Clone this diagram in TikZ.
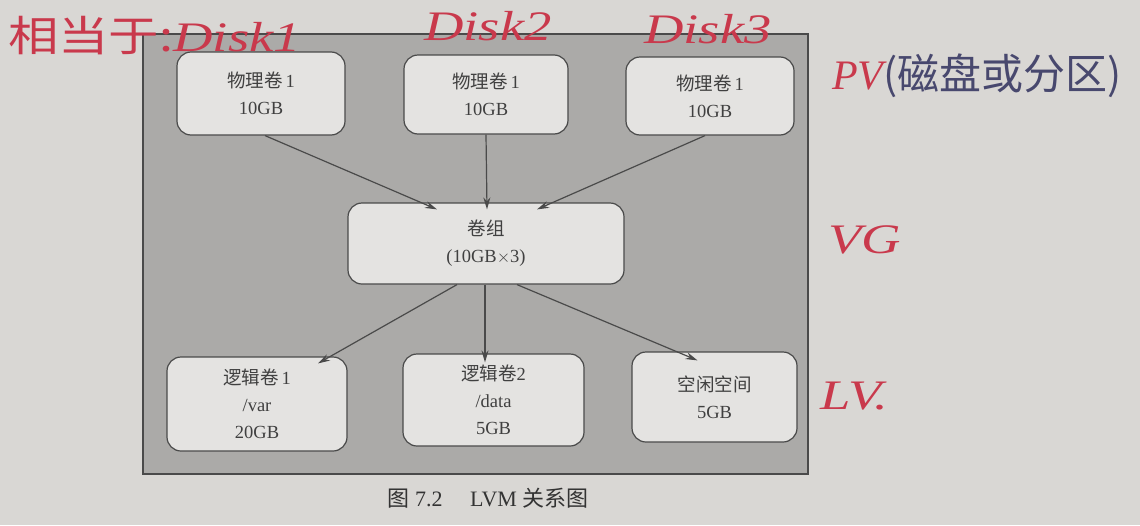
\documentclass[tikz,border=0pt]{standalone}
\usepackage{fontspec}
\setmainfont{Liberation Serif}
\newfontfamily\cjk{Noto Sans CJK SC}
\usetikzlibrary{arrows.meta}
\definecolor{paper}{HTML}{D9D7D4}
\definecolor{panel}{HTML}{ABAAA8}
\definecolor{boxfill}{HTML}{E4E3E1}
\definecolor{edge}{HTML}{4A4A4A}
\definecolor{ink}{HTML}{C9394C}
\definecolor{blueink}{HTML}{48486E}
\tikzset{
  lvbox/.style={draw=edge, line width=1.2pt, fill=boxfill, rounded corners=14pt, align=center, inner sep=0pt, text=black!75, font=\rmfamily\fontsize{18.5}{27}\selectfont},
  arr/.style={draw=edge, line width=1.2pt, -{Stealth[length=12pt,width=7pt]}},
  hand/.style={text=ink, font=\cjk\fontsize{42}{46}\selectfont, inner sep=0pt},
}
\newcommand{\wide}[1]{\scalebox{1.3}[1]{#1}}
\begin{document}
\begin{tikzpicture}[x=1pt,y=-1pt]
\useasboundingbox[fill=paper] (0,0) rectangle (1140,525);
\fill[panel, draw=edge, line width=1.2pt] (143,34) rectangle (808,474);
% PVs
\node[lvbox, minimum width=168pt, minimum height=83pt] (pv1) at (261,93.5) {{\cjk 物理卷}\,1\\10GB};
\node[lvbox, minimum width=164pt, minimum height=79pt] (pv2) at (486,94.5) {{\cjk 物理卷}\,1\\10GB};
\node[lvbox, minimum width=168pt, minimum height=78pt] (pv3) at (710,96) {{\cjk 物理卷}\,1\\10GB};
% VG
\node[lvbox, minimum width=276pt, minimum height=81pt] (vg) at (486,243.5) {{\cjk 卷组}\\(10GB$\times$3)};
% LVs
\node[lvbox, minimum width=180pt, minimum height=94pt] (lv1) at (257,404) {{\cjk 逻辑卷}\,1\\/var\\20GB};
\node[lvbox, minimum width=181pt, minimum height=92pt] (lv2) at (493.5,400) {{\cjk 逻辑卷}2\\/data\\5GB};
\node[lvbox, minimum width=165pt, minimum height=90pt] (lv3) at (714.5,397) {{\cjk 空闲空间}\\5GB};
% arrows
\draw[arr] ([xshift=4pt]pv1.south) -- ([xshift=-49pt,yshift=-7pt]vg.north);
\draw[arr] (pv2.south) -- ([xshift=1pt,yshift=-7pt]vg.north);
\draw[arr] ([xshift=-5pt]pv3.south) -- ([xshift=51pt,yshift=-7pt]vg.north);
\draw[arr] ([xshift=-29pt]vg.south) -- ([xshift=61pt,yshift=-7pt]lv1.north);
\draw[arr] ([xshift=-1pt]vg.south) -- ([xshift=-8.5pt,yshift=-9pt]lv2.north);
\draw[arr] ([xshift=31pt]vg.south) -- ([xshift=-17pt,yshift=-9pt]lv3.north);
% caption
\node[font=\rmfamily\fontsize{22}{24}\selectfont, text=black!80] (cap) at (488,498) {{\cjk 图}\ 7.2\quad\ LVM\ {\cjk 关系图}};
% handwriting
\node[hand, anchor=west] (h1) at (8,36) {\scalebox{1.2}[1]{相当于:}\wide{\rmfamily\itshape Disk1}};
\node[hand, anchor=west] (h2) at (424,26) {\wide{\rmfamily\itshape Disk2}};
\node[hand, anchor=west] (h3) at (644,29) {\wide{\rmfamily\itshape Disk3}};
\node[hand, anchor=west] (h4) at (832,76) {\rmfamily\itshape PV\cjk\color{blueink}(磁盘或分区)};
\node[hand, anchor=west] (h5) at (828,240) {\wide{\rmfamily\itshape VG}};
\node[hand, anchor=west] (h6) at (820,396) {\wide{\rmfamily\itshape LV.}};
\end{tikzpicture}
\end{document}
